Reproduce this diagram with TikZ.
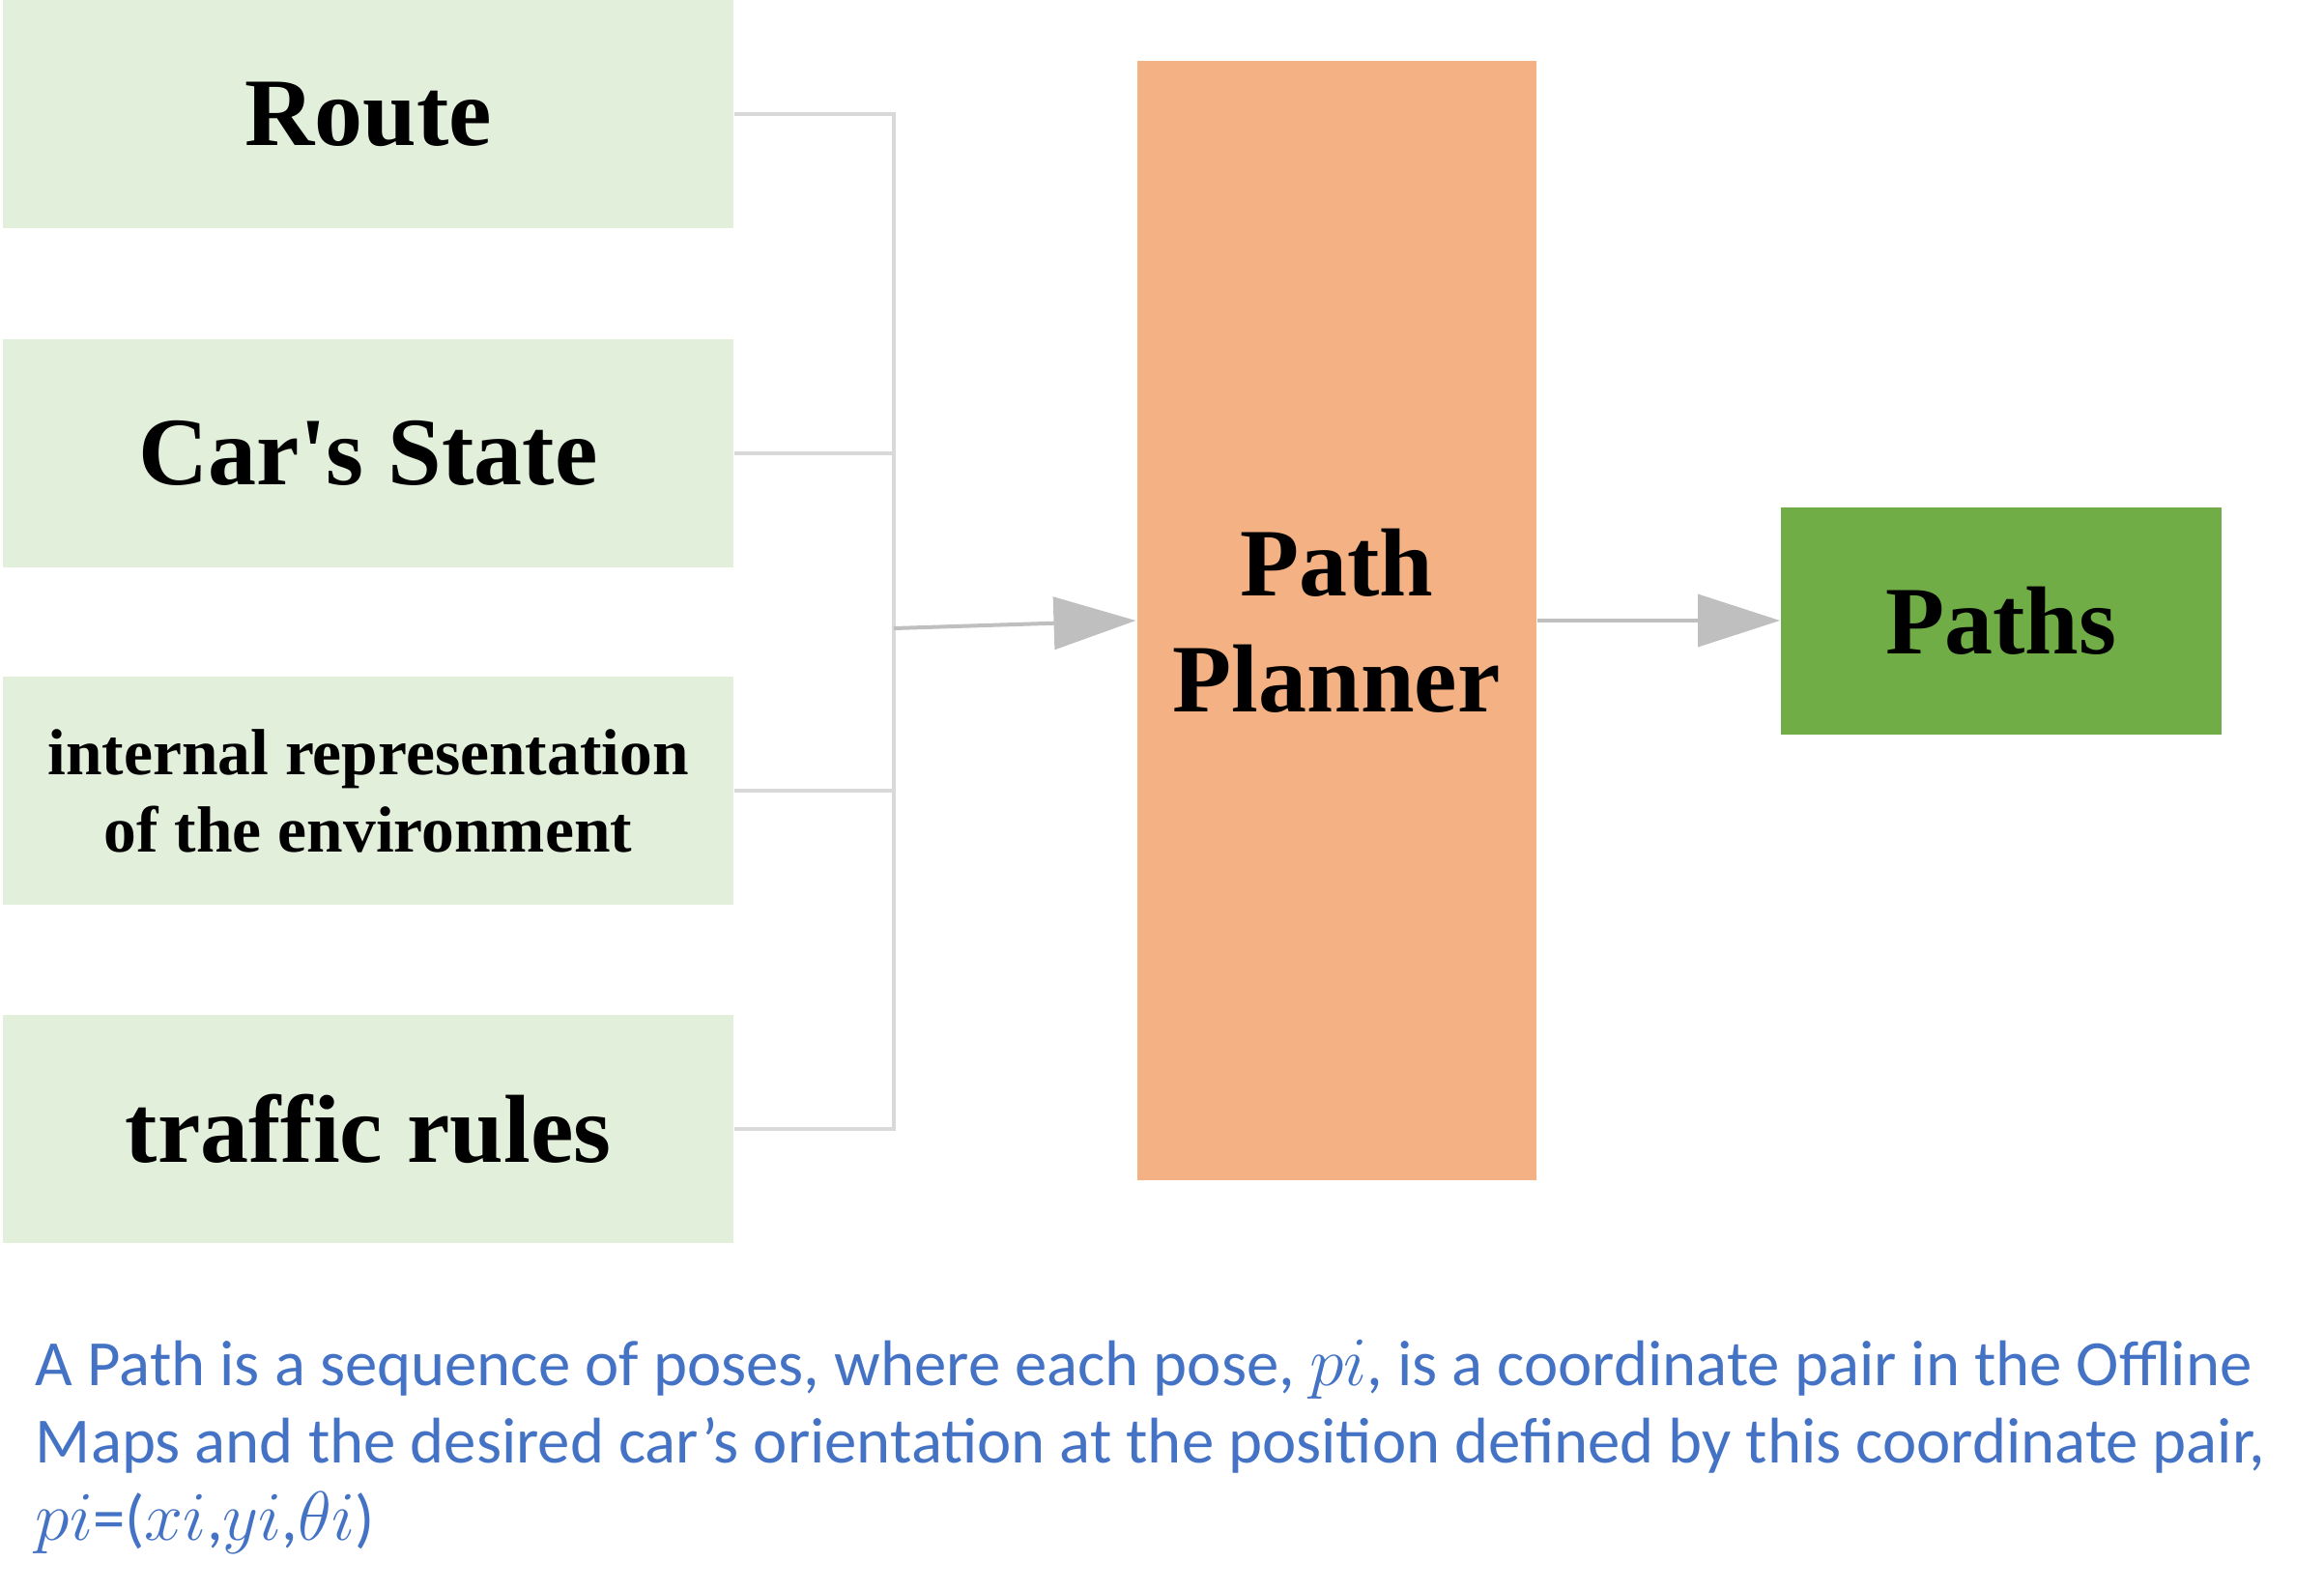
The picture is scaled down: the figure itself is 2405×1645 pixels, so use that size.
\documentclass[tikz,border=0pt]{standalone}
\usepackage{fontspec}
\setmainfont{Liberation Serif}
\newfontfamily\notefont{Carlito}
\usetikzlibrary{arrows.meta}
\definecolor{inputgreen}{HTML}{E2EFDA}
\definecolor{plannerorange}{HTML}{F4B183}
\definecolor{outputgreen}{HTML}{70AD47}
\definecolor{notecolor}{HTML}{4472C4}
\definecolor{busgray}{HTML}{D9D9D9}
\definecolor{arrowgray}{HTML}{BFBFBF}
\begin{document}
\begin{tikzpicture}[x=0.2pt,y=-0.2pt,
    inbox/.style={fill=inputgreen, minimum width=151pt, minimum height=47.2pt, inner sep=0pt, align=center},
    bigtext/.style={font=\bfseries\fontsize{20}{24}\selectfont},
    bus/.style={draw=busgray, line width=0.8pt},
    flow/.style={draw=arrowgray, line width=0.8pt, -{Triangle[length=17pt,width=10.8pt]}}]
        \useasboundingbox (0,0) rectangle (2405,1645);

        % draw the inputs
        \node[inbox,bigtext] (route) at (381,118) {Route};
        \node[inbox,bigtext] (cars) at (381,469) {Car\textquotesingle s State};
        \node[inbox,font=\bfseries\fontsize{13.5}{16}\selectfont] (env) at (381,818) {internal representation\\of the environment};
        \node[inbox,bigtext] (rules) at (381,1168) {traffic rules};

        % planner and output
        \node[fill=plannerorange, minimum width=82.6pt, minimum height=231.6pt, inner sep=0pt, align=center, bigtext] (planner) at (1383,642) {Path\\Planner};
        \node[fill=outputgreen, minimum width=91.2pt, minimum height=47pt, inner sep=0pt, bigtext] (paths) at (2071,642) {Paths};

        % collect the inputs
        \coordinate (hub) at (925,650);
        \draw[bus] (route.east) -| (hub);
        \draw[bus] (cars.east) -| (hub);
        \draw[bus] (env.east) -| (hub);
        \draw[bus] (rules.east) -| (hub);

        % arrows
        \draw[flow] (hub) -- (planner.west);
        \draw[flow] (planner.east) -- (paths.west);

        % text at the bottom
        \node[anchor=base west, inner sep=0pt, align=left, text=notecolor, font=\notefont\fontsize{13.35}{16}\selectfont] (note) at (36,1593)
            {A Path is a sequence of poses, where each pose, $pi$, is a coordinate pair in the Offline\\
             Maps and the desired car’s orientation at the position defined by this coordinate pair,\\
             $pi$=($xi$,$yi$,$\theta i$)};
\end{tikzpicture}
\end{document}
